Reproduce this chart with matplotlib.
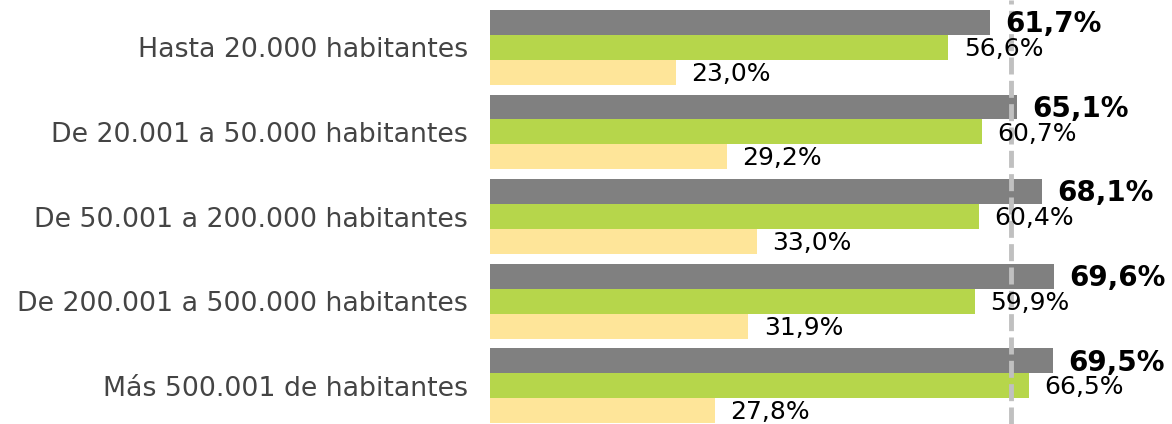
import matplotlib
matplotlib.use('Agg')
import matplotlib.pyplot as plt
import numpy as np

# --- datos ---
categorias = ['Hasta 20.000 habitantes', 'De 20.001 a 50.000 habitantes',
              'De 50.001 a 200.000 habitantes', 'De 200.001 a 500.000 habitantes',
              'Más 500.001 de habitantes']
serie_gris = [61.7, 65.1, 68.1, 69.6, 69.5]
serie_verde = [56.6, 60.7, 60.4, 59.9, 66.5]
serie_amarilla = [23.0, 29.2, 33.0, 31.9, 27.8]
media = 64.3

colores = ['#808080', '#b6d64b', '#fee599']

plt.rcParams['font.family'] = ['DejaVu Sans']

fig = plt.figure(figsize=(11.72, 4.24), dpi=100)
ax = fig.add_axes([490 / 1172, 0, 1 - 490 / 1172, 1])

h = 25 / 85
y = np.arange(len(categorias))
series = [serie_gris, serie_verde, serie_amarilla]
for k, (vals, col) in enumerate(zip(series, colores)):
    pos = y + (k - 1) * h
    ax.barh(pos, vals, height=h, color=col, zorder=2)
    for p, v in zip(pos, vals):
        txt = f"{v:.1f}%".replace('.', ',')
        ax.annotate(txt, xy=(v, p), xytext=(11, -1.2), textcoords='offset points',
                    ha='left', va='center',
                    fontsize=20 if k == 0 else 18,
                    fontweight='bold' if k == 0 else 'normal',
                    color='black', zorder=4)

# línea de referencia (media)
ax.axvline(media, color='#c0c0c0', lw=3.5, linestyle=(0, (3.5, 1.3)), zorder=3)

ax.set_xlim(0, 682 / 8.1)
ax.set_ylim(4 + 1.5 * h + 0.01, -1.5 * h - 10 / 85)
ax.set_yticks(y)
ax.set_yticklabels(categorias, fontsize=19.3, color='#444444')
ax.tick_params(axis='y', length=0, pad=16)
ax.set_xticks([])
for s in ax.spines.values():
    s.set_visible(False)

fig.savefig('out.png', dpi=100)
